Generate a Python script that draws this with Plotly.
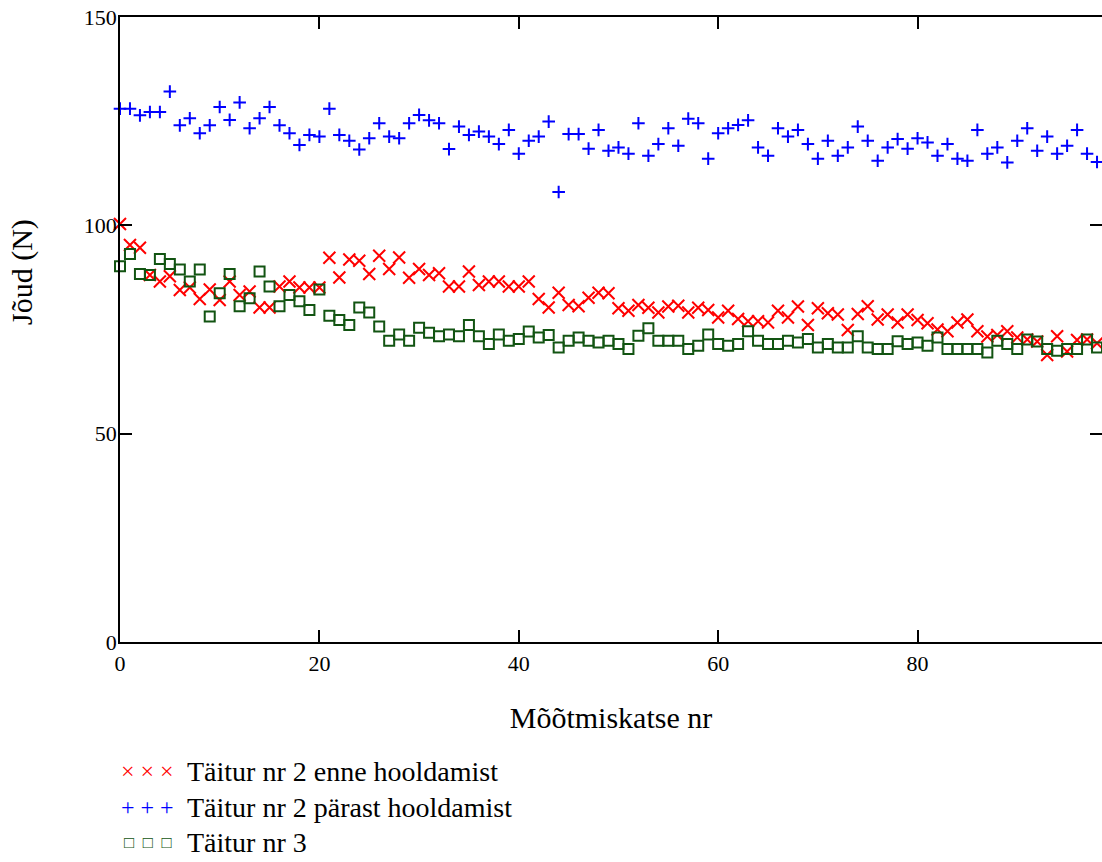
import plotly.graph_objects as go

x_vals = list(range(100))

red_enne = [100.3, 95.3, 94.6, 88.1, 86.5, 87.8, 84.5, 85.1, 82.3, 84.6,
            82.1, 86.5, 83.3, 84.1, 80.3, 80.3, 85.3, 86.5, 85.1, 85.1,
            85.1, 92.2, 87.5, 91.8, 91.5, 88.3, 92.7, 89.5, 92.3, 87.4,
            89.5, 88.1, 88.5, 85.3, 85.3, 88.9, 85.7, 86.5, 86.5, 85.3,
            85.3, 86.5, 82.3, 80.3, 83.8, 80.9, 80.6, 82.6, 83.8, 83.7,
            80.1, 79.5, 80.9, 80.2, 79.1, 80.5, 80.7, 79.1, 80.2, 79.7,
            77.9, 79.5, 77.5, 77.0, 77.0, 76.7, 79.5, 77.9, 80.5, 76.1,
            80.1, 78.9, 78.6, 74.9, 78.7, 80.6, 77.4, 78.6, 76.7, 78.6,
            77.3, 76.5, 75.0, 74.6, 76.7, 77.4, 74.6, 73.3, 73.7, 74.6,
            73.1, 72.6, 72.1, 68.9, 73.4, 69.7, 72.5, 72.6, 71.7, 71.0]

blue_parast = [128.0, 128.0, 126.4, 127.2, 127.2, 132.1, 124.0, 125.7, 122.1, 124.0,
               128.4, 125.3, 129.5, 123.3, 125.7, 128.4, 124.0, 122.1, 119.3, 121.7,
               121.3, 128.0, 121.7, 120.3, 118.2, 120.9, 124.5, 121.3, 120.9, 124.5,
               126.5, 125.2, 124.5, 118.3, 123.7, 121.7, 122.5, 121.3, 119.5, 122.9,
               117.2, 120.3, 121.3, 124.9, 108.0, 121.9, 121.9, 118.4, 122.9, 117.9,
               118.7, 117.2, 124.5, 116.7, 119.5, 123.3, 119.1, 125.6, 124.5, 116.0,
               122.1, 123.3, 124.1, 125.2, 118.7, 116.7, 123.3, 121.3, 122.9, 119.5,
               116.0, 120.3, 116.7, 118.7, 123.7, 120.3, 115.5, 118.7, 120.7, 118.4,
               120.9, 119.9, 116.7, 119.5, 116.0, 115.5, 122.9, 117.2, 118.7, 115.1,
               120.3, 123.3, 117.9, 121.3, 117.2, 119.1, 122.9, 117.2, 115.2, 116.0]

green_3 = [90.2, 93.1, 88.3, 88.1, 91.9, 90.7, 89.4, 86.5, 89.4, 78.1,
           83.7, 88.3, 80.6, 82.5, 88.9, 85.3, 80.6, 83.3, 81.8, 79.7,
           84.6, 78.3, 77.3, 76.1, 80.3, 79.1, 75.7, 72.3, 73.8, 72.3,
           75.4, 74.2, 73.4, 73.8, 73.4, 76.1, 73.4, 71.5, 73.8, 72.3,
           72.7, 74.5, 73.1, 73.7, 70.7, 72.3, 73.1, 72.3, 71.9, 72.3,
           71.5, 70.3, 73.5, 75.3, 72.3, 72.3, 72.3, 70.3, 71.1, 73.8,
           71.5, 71.1, 71.5, 74.6, 72.3, 71.5, 71.5, 72.3, 71.9, 72.7,
           70.7, 71.5, 70.7, 70.7, 73.4, 70.7, 70.3, 70.3, 72.2, 71.5,
           71.9, 71.1, 73.1, 70.3, 70.3, 70.3, 70.3, 69.5, 72.3, 71.5,
           70.3, 72.6, 72.1, 70.3, 69.9, 70.3, 70.3, 72.6, 70.7, 69.5]

names = ["Täitur nr 2 enne hooldamist", "Täitur nr 2 pärast hooldamist", "Täitur nr 3"]
colors = ["#ff0000", "#0000ff", "#125412"]
legend_glyphs = ["× × ×", "+ + +", "□\u00a0\u00a0□\u00a0\u00a0□"]
x_ticks = [0, 20, 40, 60, 80]
y_ticks = [0, 50, 100, 150]

FONT = "Liberation Serif"

fig = go.Figure()
fig.add_trace(go.Scatter(x=x_vals, y=red_enne, mode="markers", name=names[0],
                         cliponaxis=False,
                         marker=dict(symbol="x-thin-open", size=12,
                                     color=colors[0], line=dict(color=colors[0], width=2))))
fig.add_trace(go.Scatter(x=x_vals, y=blue_parast, mode="markers", name=names[1],
                         cliponaxis=False,
                         marker=dict(symbol="cross-thin-open", size=9,
                                     color=colors[1], line=dict(color=colors[1], width=2))))
fig.add_trace(go.Scatter(x=x_vals, y=green_3, mode="markers", name=names[2],
                         cliponaxis=False,
                         marker=dict(symbol="square-open", size=10,
                                     color=colors[2], line=dict(color=colors[2], width=2))))

axis_common = dict(showline=True, linecolor="black", linewidth=1.5, mirror="ticks",
                   ticks="inside", ticklen=12, tickwidth=1.5, tickcolor="black",
                   showgrid=False, zeroline=False,
                   tickfont=dict(family=FONT, size=22, color="black"))

fig.update_xaxes(range=[0, 98.5], tickvals=x_ticks,
                 title=dict(text="Mõõtmiskatse nr", font=dict(family=FONT, size=30, color="black"),
                            standoff=32),
                 ticklabelstandoff=1, **axis_common)
fig.update_yaxes(range=[0, 150], tickvals=y_ticks, ticklabelstandoff=-3, **axis_common)

fig.add_annotation(text="Jõud (N)", textangle=-90, xref="paper", yref="paper",
                   x=-0.0998, y=0.592, xanchor="center", yanchor="middle", showarrow=False,
                   font=dict(family=FONT, size=30, color="black"))

# legend drawn as text rows below the plot
row_y = [-0.2064, -0.264, -0.32]
glyph_sizes = [24, 24, 17]
for name, col, glyph, gs, yy in zip(names, colors, legend_glyphs, glyph_sizes, row_y):
    fig.add_annotation(text=glyph, xref="paper", yref="paper", x=0.0285, y=yy,
                       xanchor="center", yanchor="middle", showarrow=False,
                       font=dict(family=FONT, size=gs, color=col))
    fig.add_annotation(text=name, xref="paper", yref="paper", x=0.0662, y=yy,
                       xanchor="left", yanchor="middle", showarrow=False,
                       font=dict(family=FONT, size=28, color="black"))

fig.update_layout(
    width=1102, height=862,
    margin=dict(l=120, r=0, t=17, b=220, autoexpand=False),
    paper_bgcolor="white", plot_bgcolor="white",
    font=dict(family=FONT, color="black"),
    showlegend=False,
)

fig.write_html("out.html")
